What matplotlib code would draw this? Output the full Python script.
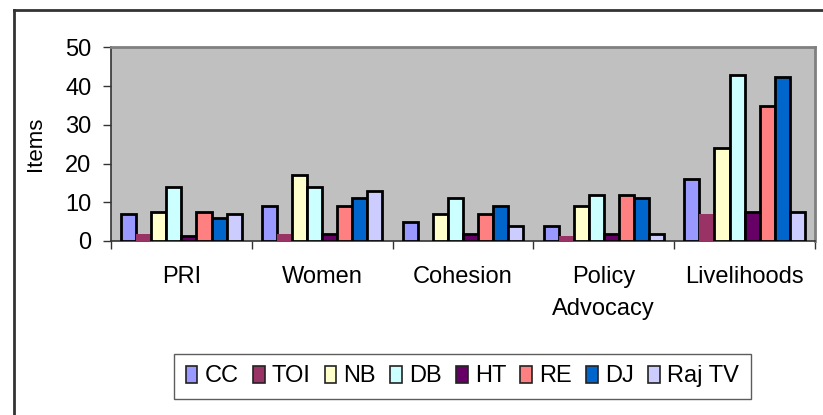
import matplotlib.pyplot as plt
import numpy as np
from matplotlib.lines import Line2D

plt.rcParams['font.family'] = ['Liberation Sans', 'DejaVu Sans']

# Coverage items per theme, by media outlet
categories = ["PRI", "Women", "Cohesion", "Policy\nAdvocacy", "Livelihoods"]
outlets = ["CC", "TOI", "NB", "DB", "HT", "RE", "DJ", "Raj TV"]

cc = [7, 9, 5, 4, 16]
toi = [1.7, 1.7, 0, 1.2, 7]
nb = [7.5, 17, 7, 9, 24]
db = [14, 14, 11, 12, 43]
ht = [1.2, 1.7, 1.7, 1.7, 7.5]
re_ = [7.5, 9, 7, 12, 35]
dj = [6, 11, 9, 11, 42.5]
raj = [7, 13, 4, 1.7, 7.5]

series = [cc, toi, nb, db, ht, re_, dj, raj]
colors = ["#9999FF", "#993366", "#FFFFCC", "#CCFFFF",
          "#660066", "#FF8080", "#0066CC", "#CCCCFF"]

fig = plt.figure(figsize=(8.23, 4.15), dpi=100)
ax = fig.add_axes([0.1349, 0.4193, 0.8554, 0.4663])
ax.set_facecolor("#C0C0C0")

x = np.arange(len(categories))
width = 0.107
for i, (vals, col, name) in enumerate(zip(series, colors, outlets)):
    offs = (i - 3.5) * width
    edge = "none" if name == "TOI" else "black"
    ax.bar(x + offs, vals, width, color=col, edgecolor=edge,
           linewidth=2, label=name, zorder=3)

ax.set_xlim(-0.5, len(categories) - 0.5)
ax.set_ylim(0, 50)
ax.set_yticks([0, 10, 20, 30, 40, 50])
ax.tick_params(axis="y", labelsize=17, length=6, width=1, color="#333333", pad=8)

# category names sit between boundary ticks
ax.set_xticks(np.arange(len(categories) + 1) - 0.5)
ax.set_xticklabels([])
ax.tick_params(axis="x", length=6, width=1, color="#333333")
for xi, lab in zip(x, categories):
    ax.text(xi, -0.13, lab, transform=ax.get_xaxis_transform(), ha="center",
            va="top", fontsize=17, linespacing=1.6)

ax.set_ylabel("Items", fontsize=16, labelpad=14)

for side in ["top", "right"]:
    ax.spines[side].set_color("#808080")
    ax.spines[side].set_linewidth(2)
for side in ["left", "bottom"]:
    ax.spines[side].set_color("#333333")
    ax.spines[side].set_linewidth(1.2)

leg = fig.legend(loc="center", bbox_to_anchor=(0.5616, 0.0928), ncol=8,
                 fontsize=17, frameon=True, fancybox=False, handlelength=0.5,
                 handleheight=0.75, handletextpad=0.3, columnspacing=0.6,
                 borderpad=0.5)
leg.get_frame().set_edgecolor("#333333")
leg.get_frame().set_linewidth(1)
for h in leg.legend_handles:
    h.set_edgecolor("#222222")
    h.set_linewidth(1.2)

# outer chart frame (left and top edges)
fig.add_artist(Line2D([13.5 / 823, 13.5 / 823], [0, 1 - 10.5 / 415],
                      transform=fig.transFigure, color="#333333", lw=2))
fig.add_artist(Line2D([13.5 / 823, 1], [1 - 10.5 / 415, 1 - 10.5 / 415],
                      transform=fig.transFigure, color="#333333", lw=2))

fig.savefig("out.png", dpi=100)
